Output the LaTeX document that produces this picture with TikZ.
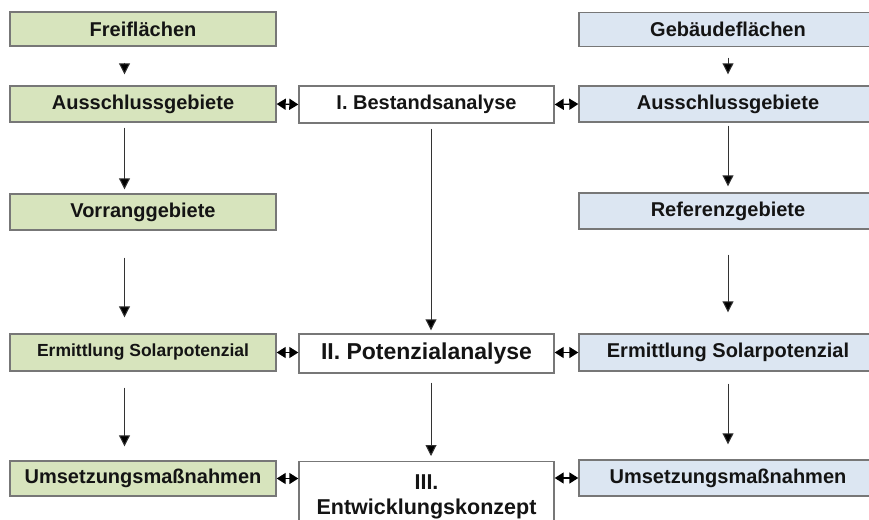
\documentclass[tikz,border=0pt]{standalone}
\usepackage{fontspec}
\setmainfont{Liberation Sans}
\usetikzlibrary{arrows.meta,calc}
\definecolor{gfill}{HTML}{D7E4BD}
\definecolor{bfill}{HTML}{DCE6F2}
\definecolor{bline}{HTML}{777777}
\definecolor{aline}{HTML}{333333}
\begin{document}
\begin{tikzpicture}[x=1pt,y=-1pt,
 box/.style={draw=bline,line width=1.4pt,minimum height=35pt,inner sep=0pt,font=\bfseries\fontsize{20}{24}\selectfont,text=black!92},
 gbox/.style={box,fill=gfill,minimum width=266pt},
 mbox/.style={box,fill=white,minimum width=255pt},
 bbox/.style={box,fill=bfill,minimum width=298pt},
 arr/.style={draw=aline,line width=1pt,-{Triangle[width=11pt,length=11pt,fill=black]}},
 darr/.style={draw=black,line width=1.4pt,{Triangle[width=11pt,length=9pt]}-{Triangle[width=11pt,length=9pt]}}]
\clip (0,0) rectangle (869,519);
\fill[white] (0,0) rectangle (869,519);
% left column
\node[gbox,minimum height=34pt] (frei) at (143,29) {Freiflächen};
\node[gbox,minimum height=36pt] (ausL) at (143,104) {Ausschlussgebiete};
\node[gbox,minimum height=36pt] (vor) at (143,212) {Vorranggebiete};
\node[gbox,minimum height=37pt,font=\bfseries\fontsize{17.5}{20}\selectfont] (ermL) at (143,352.5) {Ermittlung Solarpotenzial};
\node[gbox] (umsL) at (143,478.5) {Umsetzungsmaßnahmen};
% middle column
\node[mbox,minimum height=37pt] (best) at (426.5,104.5) {I. Bestandsanalyse};
\node[mbox,minimum height=39pt,font=\bfseries\fontsize{23}{26}\selectfont] (pot) at (426.5,353.5) {II. Potenzialanalyse};
\node[mbox,anchor=north,minimum height=70pt,align=center,font=\bfseries\fontsize{21.5}{25}\selectfont] (ent) at (426.5,461) {III.\\Entwicklungskonzept};
% right column
\node[bbox,minimum height=34pt] (geb) at (728,29.5) {Gebäudeflächen};
\node[bbox,minimum height=36pt] (ausR) at (728,104) {Ausschlussgebiete};
\node[bbox,minimum height=36pt] (ref) at (728,211) {Referenzgebiete};
\node[bbox,minimum height=37pt] (ermR) at (728,352.5) {Ermittlung Solarpotenzial};
\node[bbox,minimum height=36pt] (umsR) at (728,478) {Umsetzungsmaßnahmen};
% vertical arrows, left
\draw[arr] ([xshift=-18.5pt,yshift=-16pt]frei.south) -- ([xshift=-18.5pt,yshift=11pt]ausL.north);
\draw[arr] ([xshift=-18.5pt,yshift=-5pt]ausL.south) -- ([xshift=-18.5pt,yshift=4pt]vor.north);
\draw[arr] ([xshift=-18.5pt,yshift=-27pt]vor.south) -- ([xshift=-18.5pt,yshift=16pt]ermL.north);
\draw[arr] ([xshift=-18.5pt,yshift=-16pt]ermL.south) -- ([xshift=-18.5pt,yshift=14pt]umsL.north);
% vertical arrows, middle
\draw[arr] ([xshift=4.5pt,yshift=-5pt]best.south) -- ([xshift=4.5pt,yshift=3pt]pot.north);
\draw[arr] ([xshift=4.5pt,yshift=-9pt]pot.south) -- ([xshift=4.5pt,yshift=5pt]ent.north);
% vertical arrows, right
\draw[arr] ([yshift=-10.5pt]geb.south) -- ([yshift=11pt]ausR.north);
\draw[arr] ([yshift=-3pt]ausR.south) -- ([yshift=6pt]ref.north);
\draw[arr] ([yshift=-25pt]ref.south) -- ([yshift=21pt]ermR.north);
\draw[arr] ([yshift=-12pt]ermR.south) -- ([yshift=15pt]umsR.north);
% horizontal double arrows
\draw[darr] (ausL.east) -- (best.west);
\draw[darr] (best.east) -- (ausR.west);
\draw[darr] (ermL.east) -- (ermL.east -| pot.west);
\draw[darr] (pot.east |- ermR.west) -- (ermR.west);
\draw[darr] (umsL.east) -- (umsL.east -| ent.west);
\draw[darr] (ent.east |- umsR.west) -- (umsR.west);
\end{tikzpicture}
\end{document}
